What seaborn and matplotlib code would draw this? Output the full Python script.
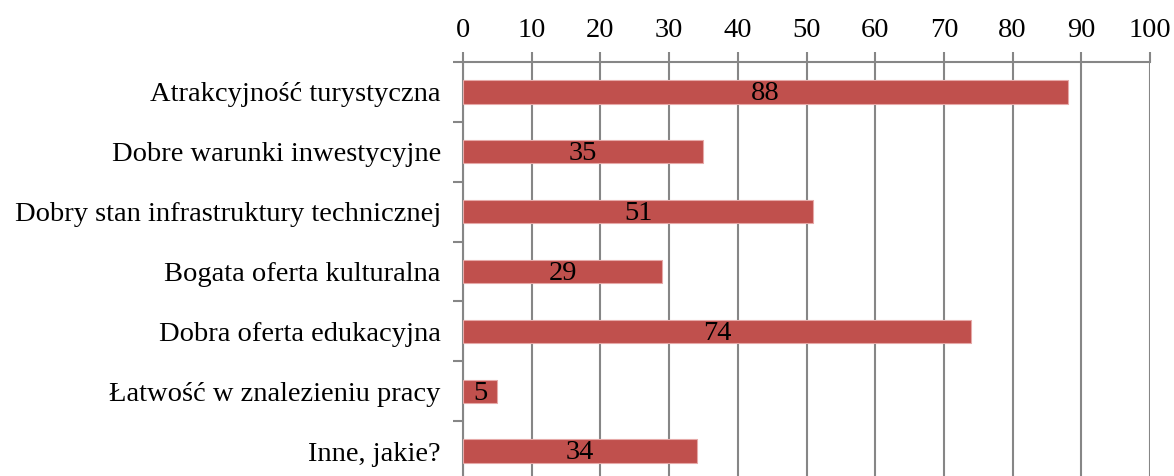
import matplotlib
matplotlib.use("Agg")
import matplotlib.pyplot as plt
import seaborn as sns
import pandas as pd
import numpy as np

categories = [
    "Atrakcyjność turystyczna",
    "Dobre warunki inwestycyjne",
    "Dobry stan infrastruktury technicznej",
    "Bogata oferta kulturalna",
    "Dobra oferta edukacyjna",
    "Łatwość w znalezieniu pracy",
    "Inne, jakie?",
]
values = [88, 35, 51, 29, 74, 5, 34]
x_ticks = [0, 10, 20, 30, 40, 50, 60, 70, 80, 90, 100]

sns.set_theme(style="white")
plt.rcParams["font.family"] = ["Liberation Serif", "DejaVu Serif"]
plt.rcParams["text.color"] = "black"
plt.rcParams["xtick.color"] = "black"
plt.rcParams["ytick.color"] = "black"

df = pd.DataFrame({"kategoria": categories, "liczba": values})

fig = plt.figure(figsize=(11.74, 4.76), dpi=100)
ax = fig.add_axes([0.3944, -0.0105, 0.5852, 0.8802])

grid_c = "#868686"
bar_c = "#C0504D"
fs = 20.5

sns.barplot(data=df, y="kategoria", x="liczba", orient="h", color=bar_c,
            width=0.39, edgecolor="#E6A9A8", linewidth=0.8, saturation=1,
            ax=ax, zorder=3)

ax.set_xlim(0, 100)
ax.set_ylim(len(categories) - 0.5, -0.5)
ax.set_xticks(x_ticks)
ax.xaxis.tick_top()
ax.xaxis.set_label_position("top")
ax.set_xlabel("")
ax.set_ylabel("")
ax.tick_params(axis="x", which="major", length=7, width=1.5, color=grid_c,
               labelsize=fs, labelcolor="black", pad=7, top=True, bottom=False)
ax.tick_params(axis="y", which="major", length=0, labelsize=fs,
               labelcolor="black", pad=16)
ax.set_yticks(np.arange(-0.5, len(categories) + 0.5, 1), minor=True)
ax.tick_params(axis="y", which="minor", length=7, width=1.5, color=grid_c, left=True)

ax.grid(axis="x", color=grid_c, linewidth=1.5, zorder=0)
ax.set_axisbelow(True)
for side in ["right", "bottom"]:
    ax.spines[side].set_visible(False)
for side in ["top", "left"]:
    ax.spines[side].set_color(grid_c)
    ax.spines[side].set_linewidth(1.5)

for i, v in enumerate(values):
    ax.text(v / 2, i + 0.03, str(v), ha="center", va="center", fontsize=fs,
            color="black", zorder=4)

fig.savefig("out.png", dpi=100)
